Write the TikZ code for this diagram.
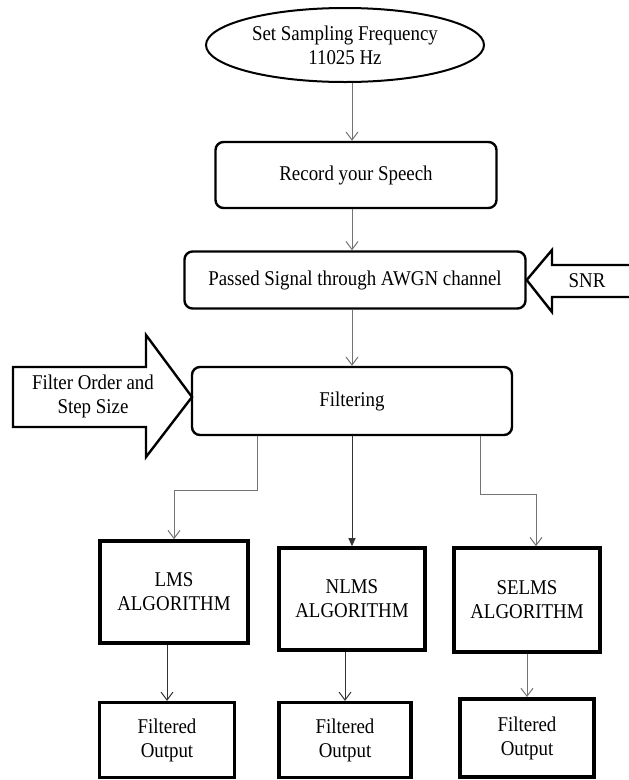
\documentclass[tikz,border=0pt]{standalone}
\usepackage{fontspec}
\setmainfont{Liberation Serif}[FakeStretch=0.9]
\usetikzlibrary{shapes.geometric,arrows.meta}

\begin{document}
\begin{tikzpicture}[x=1pt,y=-1pt]
        \tikzset{every node/.style={font=\fontsize{21}{24}\selectfont},
                 roundbox/.style={draw, rounded corners=8pt, line width=2.4pt,
                                  align=center, inner sep=0pt},
                 algbox/.style={draw, line width=3.6pt, align=center, inner sep=0pt,
                                minimum width=146, minimum height=102},
                 outbox/.style={draw, line width=3.2pt, align=center, inner sep=0pt,
                                minimum height=75},
                 conn/.style={draw=black!55, line width=1pt,
                              -{Straight Barb[length=8pt,width=12pt]}},
                 blockarrow/.style={draw, line width=2.4pt, line join=miter}}
        \useasboundingbox (0,0) rectangle (629,780);

        % main column
        \node[ellipse, draw, line width=2pt, align=center, inner sep=0pt,
              minimum width=278, minimum height=74] (freq) at (345,45)
              {Set Sampling Frequency\\11025 Hz};
        \node[roundbox, minimum width=281, minimum height=66] (rec) at (356,175)
              {Record your Speech};
        \node[roundbox, minimum width=341, minimum height=57] (awgn) at (355,280)
              {Passed Signal through AWGN channel};
        \node[roundbox, minimum width=320, minimum height=68] (filt) at (352,401)
              {Filtering};

        \draw[conn] (freq.south -| filt.north) -- (rec.north -| filt.north);
        \draw[conn] (rec.south -| filt.north) -- (awgn.north -| filt.north);
        \draw[conn] (awgn.south -| filt.north) -- (filt.north);

        % side inputs
        \draw[blockarrow] (awgn.east) -- (552,250) -- (552,265) -- (635,265)
              -- (635,297) -- (552,297) -- (552,312) -- cycle;
        \node (snr) at (587,281) {SNR};

        \draw[blockarrow] (192,397) -- (146,335) -- (146,367) -- (13,367)
              -- (13,427) -- (146,427) -- (146,457) -- cycle;
        \node[align=center] (order) at (93,396) {Filter Order and\\Step Size};

        % algorithms
        \node[algbox, minimum width=148] (lms) at (174,592) {LMS\\ALGORITHM};
        \node[algbox] (nlms) at (352,599) {NLMS\\ALGORITHM};
        \node[algbox, minimum height=104] (selms) at (527,600) {SELMS\\ALGORITHM};

        \draw[conn] ([xshift=-95pt]filt.south) -- ++(0,54) -| (lms.north);
        \draw[draw=black!80, line width=1pt, -{Triangle[length=8pt,width=7pt]}]
              (filt.south) -- (nlms.north);
        \draw[conn] ([xshift=128pt]filt.south) -- ++(0,58) -| ([xshift=9pt]selms.north);

        % outputs
        \node[outbox, minimum width=135] (out1) at (167,740) {Filtered\\Output};
        \node[outbox, minimum width=132] (out2) at (345,740) {Filtered\\Output};
        \node[outbox, minimum width=134, minimum height=78, line width=4pt] (out3)
              at (527,738) {Filtered\\Output};

        \draw[conn, draw=black!80] (lms.south -| out1.north) -- (out1.north);
        \draw[conn, draw=black!80] (nlms.south -| out2.north) -- (out2.north);
        \draw[conn] (selms.south -| out3.north) -- (out3.north);
\end{tikzpicture}
\end{document}
